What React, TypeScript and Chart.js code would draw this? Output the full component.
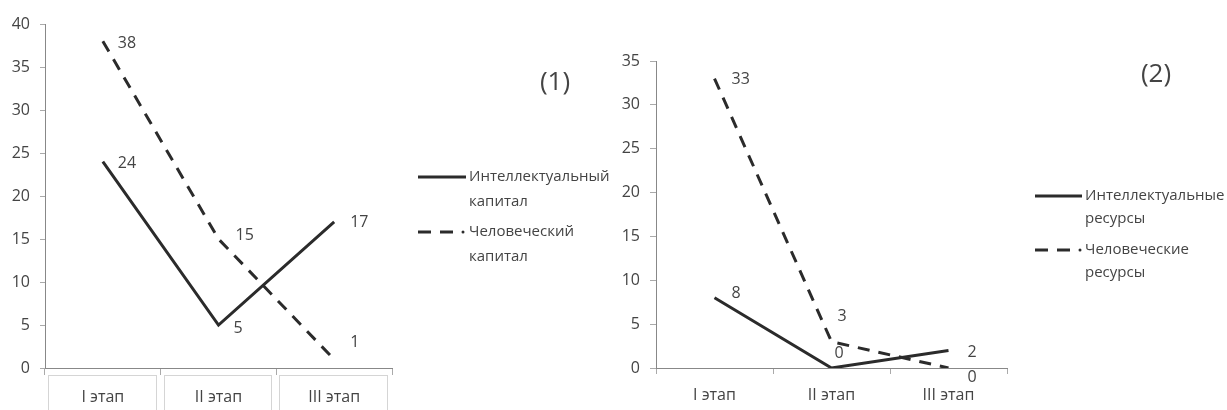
import React, { useEffect, useRef } from "react";
import { Chart, registerables } from "chart.js";

Chart.register(...registerables);

// ---------- data ----------
const CATEGORIES = ["I этап", "II этап", "III этап"];

const INTELLECTUAL_CAPITAL = [24, 5, 17];
const HUMAN_CAPITAL = [38, 15, 1];

const INTELLECTUAL_RESOURCES = [8, 0, 2];
const HUMAN_RESOURCES = [33, 3, 0];

const Y1_MAX = 40;
const Y2_MAX = 35;
const Y_STEP = 5;

const LEGEND_1 = [["Интеллектуальный", "капитал"], ["Человеческий", "капитал"]];
const LEGEND_2 = [["Интеллектуальные", "ресурсы"], ["Человеческие", "ресурсы"]];
const TITLE_1 = "(1)";
const TITLE_2 = "(2)";

// ---------- styling (offsets of value labels from their points) ----------
const OFFSETS_1 = [
  [[15, 2], [15, 3], [16, 1]],
  [[15, 2], [17, -4], [16, -17]],
];
const OFFSETS_2 = [
  [[17, -4], [3, -15], [19, 2]],
  [[17, 1], [6, -25], [19, 9]],
];

const FONT = "'Open Sans', 'DejaVu Sans', sans-serif";
const TEXT = "#444";
const LINE = "#2b2b2b";

const overlayPlugin = {
  id: "overlay",
  afterDatasetsDraw(chart: any, _args: any, opts: any) {
    const ctx = chart.ctx;
    ctx.save();
    ctx.fillStyle = TEXT;
    ctx.font = `16px ${FONT}`;
    ctx.textAlign = "left";
    ctx.textBaseline = "middle";
    chart.data.datasets.forEach((ds: any, di: number) => {
      const meta = chart.getDatasetMeta(di);
      meta.data.forEach((pt: any, i: number) => {
        const off = opts.offsets[di][i];
        ctx.fillText(String(ds.data[i]), pt.x + off[0], pt.y + off[1]);
      });
    });
    ctx.restore();
  },
  afterDraw(chart: any, _args: any, opts: any) {
    const ctx = chart.ctx;
    ctx.save();
    // category boxes
    if (opts.boxes) {
      const xs = chart.scales.x;
      const half = xs.width / CATEGORIES.length / 2;
      ctx.strokeStyle = "#aaa";
      ctx.lineWidth = 1;
      ctx.setLineDash([1, 1]);
      CATEGORIES.forEach((_c, i) => {
        const cx = xs.getPixelForValue(i);
        const l = Math.round(cx - half + 3) + 0.5;
        const r = Math.round(cx + half - 5) + 0.5;
        ctx.strokeRect(l, 375.5, r - l, 40);
      });
      ctx.setLineDash([]);
    }
    // legend
    const lg = opts.legend;
    ctx.font = `15px ${FONT}`;
    ctx.fillStyle = TEXT;
    ctx.textAlign = "left";
    ctx.textBaseline = "middle";
    lg.items.forEach((lines: string[], k: number) => {
      const y = lg.ys[k];
      ctx.strokeStyle = LINE;
      ctx.lineWidth = 3;
      if (k === 0) {
        ctx.beginPath();
        ctx.moveTo(lg.x0, y);
        ctx.lineTo(lg.x1, y);
        ctx.stroke();
      } else {
        const segs = [[0, 13], [22, 35]];
        segs.forEach(([a, b]) => {
          ctx.beginPath();
          ctx.moveTo(lg.x0 + a, y);
          ctx.lineTo(lg.x0 + b, y);
          ctx.stroke();
        });
        ctx.beginPath();
        ctx.arc(lg.x0 + 45, y, 1.5, 0, Math.PI * 2);
        ctx.fillStyle = LINE;
        ctx.fill();
        ctx.fillStyle = TEXT;
      }
      lines.forEach((t, j) => {
        ctx.fillText(t, lg.tx, y + j * lg.lh);
      });
    });
    // title
    ctx.font = `26px ${FONT}`;
    ctx.textAlign = "center";
    ctx.fillText(opts.title.text, opts.title.x, opts.title.y);
    ctx.restore();
  },
};

function makeConfig(
  a: number[],
  b: number[],
  yMax: number,
  p: { top: number; right: number; yWidth: number; yTick: number; xTick: number; xPad: number },
  overlay: any
): any {
  return {
    type: "line",
    data: {
      labels: CATEGORIES,
      datasets: [
        { data: a, borderColor: LINE, borderWidth: 3, pointRadius: 0, tension: 0, borderCapStyle: "butt" },
        { data: b, borderColor: LINE, borderWidth: 3, pointRadius: 0, tension: 0, borderDash: [12, 9], borderCapStyle: "butt" },
      ],
    },
    options: {
      responsive: false,
      animation: false,
      layout: { padding: { left: 0, top: p.top, right: p.right, bottom: 0 } },
      plugins: { legend: { display: false }, tooltip: { enabled: false }, overlay },
      scales: {
        x: {
          offset: true,
          grid: { offset: true, drawOnChartArea: false, drawTicks: true, tickLength: p.xTick, color: "#aaa" },
          border: { display: true, dash: [1, 2], color: "#888" },
          ticks: { padding: p.xPad, color: TEXT, font: { family: FONT, size: 16 }, maxRotation: 0 },
          afterFit: (s: any) => {
            s.height = 42;
          },
        },
        y: {
          min: 0,
          max: yMax,
          ticks: { stepSize: Y_STEP, padding: 10, color: TEXT, font: { family: FONT, size: 16 } },
          grid: { drawOnChartArea: false, drawTicks: true, tickLength: p.yTick, color: "#aaa" },
          border: { display: true, dash: [1, 2], color: "#888" },
          afterFit: (s: any) => {
            s.width = p.yWidth;
          },
        },
      },
    },
    plugins: [overlayPlugin],
  };
}

export default function App() {
  const ref1 = useRef<HTMLCanvasElement>(null);
  const ref2 = useRef<HTMLCanvasElement>(null);

  useEffect(() => {
    const c1 = new Chart(
      ref1.current!,
      makeConfig(
        INTELLECTUAL_CAPITAL,
        HUMAN_CAPITAL,
        Y1_MAX,
        { top: 24, right: 221, yWidth: 45, yTick: 5, xTick: 7, xPad: 13 },
        {
          offsets: OFFSETS_1,
          boxes: true,
          legend: { items: LEGEND_1, x0: 418, x1: 466, tx: 469, ys: [177, 232], lh: 25 },
          title: { text: TITLE_1, x: 555, y: 83 },
        }
      )
    );
    const c2 = new Chart(
      ref2.current!,
      makeConfig(
        INTELLECTUAL_RESOURCES,
        HUMAN_RESOURCES,
        Y2_MAX,
        { top: 61, right: 220, yWidth: 43, yTick: 6, xTick: 6, xPad: 12 },
        {
          offsets: OFFSETS_2,
          boxes: false,
          legend: { items: LEGEND_2, x0: 422, x1: 469, tx: 472, ys: [196, 250], lh: 23 },
          title: { text: TITLE_2, x: 543, y: 75 },
        }
      )
    );
    return () => {
      c1.destroy();
      c2.destroy();
    };
  }, []);

  return (
    <div
      style={{
        position: "fixed",
        left: 0,
        top: 0,
        width: 1227,
        height: 410,
        background: "#fff",
        display: "flex",
        overflow: "hidden",
      }}
    >
      <canvas ref={ref1} width={613} height={410} style={{ width: 613, height: 410, display: "block" }} />
      <canvas ref={ref2} width={614} height={410} style={{ width: 614, height: 410, display: "block" }} />
    </div>
  );
}
